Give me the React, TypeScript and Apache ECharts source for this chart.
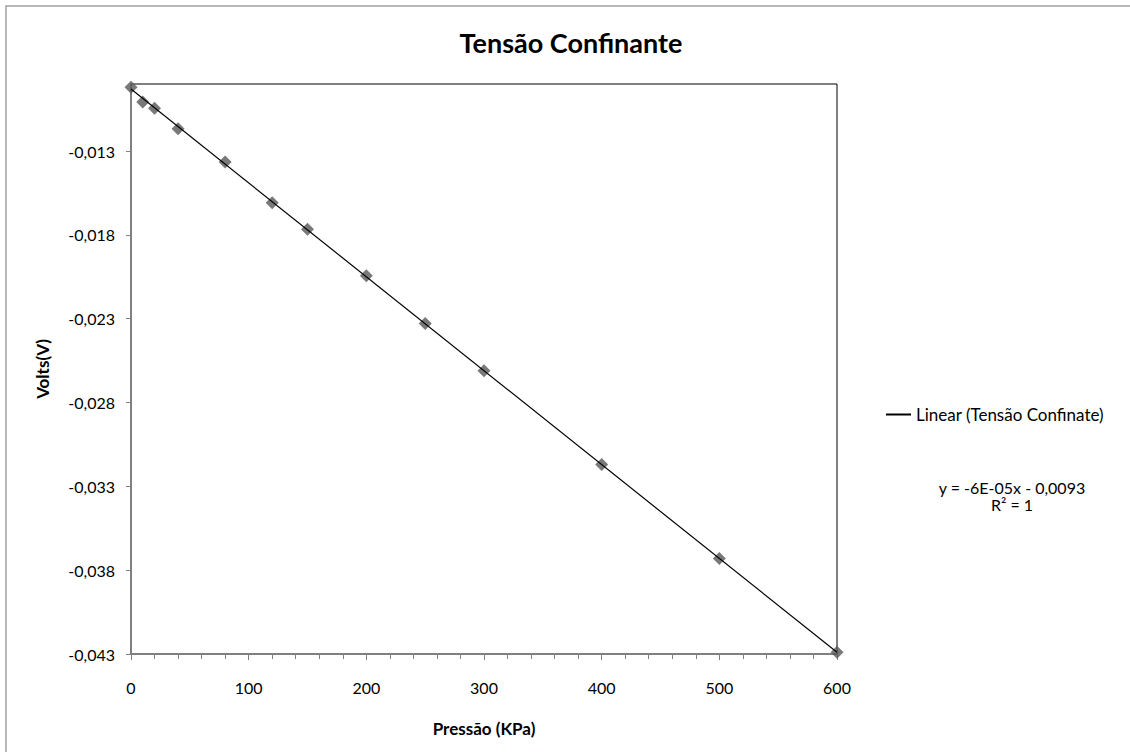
import React, { useEffect, useRef } from "react";
import * as echarts from "echarts";

const chartTitle = "Tensão Confinante";
const xAxisTitle = "Pressão (KPa)";
const yAxisTitle = "Volts(V)";
const trendName = "Linear (Tensão Confinate)";
const equationLines = ["y = -6E-05x - 0,0093", "R² = 1"];

const pressao = [0, 10, 20, 40, 80, 120, 150, 200, 250, 300, 400, 500, 600];
const volts = [
  -0.00919, -0.01007, -0.01044, -0.01167, -0.01365, -0.01608, -0.01766,
  -0.02044, -0.02328, -0.0261, -0.03169, -0.0373, -0.0429,
];
const trendX = [0, 600];
const trendY = [-0.0093, -0.0429];
const yTicks = [-0.043, -0.038, -0.033, -0.028, -0.023, -0.018, -0.013];

const FONT = "Lato";
const FS = 16;

export default function App() {
  const ref = useRef<HTMLDivElement>(null);
  useEffect(() => {
    if (!ref.current) return;
    const chart = echarts.init(ref.current, null, { renderer: "svg" });
    chart.setOption({
      animation: false,
      backgroundColor: "#ffffff",
      textStyle: { fontFamily: FONT },
      title: {
        text: chartTitle,
        left: 566,
        top: 24,
        textAlign: "center",
        textStyle: { fontFamily: FONT, fontSize: 27, fontWeight: "bold", color: "#000" },
      },
      grid: {
        left: 131,
        right: 293,
        top: 84,
        bottom: 98,
        show: true,
        borderColor: "#000",
        borderWidth: 1,
        backgroundColor: "transparent",
      },
      legend: {
        data: [trendName],
        left: 881,
        top: 401,
        itemWidth: 25,
        itemHeight: 2,
        itemGap: 8,
        textStyle: { fontFamily: FONT, fontSize: 17, color: "#000" },
        icon: "rect",
      },
      xAxis: {
        type: "value",
        min: 0,
        max: 600,
        interval: 100,
        name: xAxisTitle,
        nameLocation: "middle",
        nameGap: 66,
        nameTextStyle: { fontFamily: FONT, fontSize: 17, fontWeight: "bold", color: "#000" },
        axisLine: { show: true, onZero: false, lineStyle: { color: "#808080", width: 1.5 } },
        axisTick: { show: true, inside: false, length: 6, lineStyle: { color: "#808080", width: 1 } },
        minorTick: { show: true, splitNumber: 5, length: 5, lineStyle: { color: "#808080", width: 1 } },
        axisLabel: { fontFamily: FONT, fontSize: FS, color: "#000", margin: 25 },
        splitLine: { show: false },
      },
      yAxis: {
        type: "value",
        min: -0.043,
        max: -0.009,
        name: yAxisTitle,
        nameLocation: "middle",
        nameGap: 80,
        nameRotate: 90,
        nameTextStyle: { fontFamily: FONT, fontSize: 17, fontWeight: "bold", color: "#000" },
        axisLine: { show: true, onZero: false, lineStyle: { color: "#808080", width: 1.5 } },
        axisTick: {
          show: true,
          inside: false,
          length: 5,
          customValues: yTicks,
          lineStyle: { color: "#808080", width: 1 },
        },
        axisLabel: {
          fontFamily: FONT,
          fontSize: FS,
          color: "#000",
          margin: 16,
          customValues: yTicks,
          formatter: (v: number) => v.toFixed(3).replace(".", ","),
        },
        splitLine: { show: false },
      },
      graphic: [
        {
          type: "rect",
          shape: { x: 6, y: 6, width: 1300, height: 900 },
          style: { fill: "none", stroke: "#a0a0a0", lineWidth: 1.5 },
          silent: true,
        },
        {
          type: "text",
          x: 1012,
          y: 487,
          style: {
            text: equationLines[0],
            fontFamily: FONT,
            fontSize: 16,
            fill: "#000",
            textAlign: "center",
            textVerticalAlign: "middle",
          },
        },
        {
          type: "text",
          x: 1012,
          y: 504,
          style: {
            text: equationLines[1],
            fontFamily: FONT,
            fontSize: 16,
            fill: "#000",
            textAlign: "center",
            textVerticalAlign: "middle",
          },
        },
      ],
      series: [
        {
          name: "Tensão Confinate",
          type: "scatter",
          data: pressao.map((x, i) => [x, volts[i]]),
          symbol: "diamond",
          symbolSize: 13,
          itemStyle: { color: "#575757" },
          z: 2,
        },
        {
          name: trendName,
          type: "line",
          data: trendX.map((x, i) => [x, trendY[i]]),
          symbol: "none",
          lineStyle: { color: "#000", width: 1.2 },
          itemStyle: { color: "#000" },
          z: 3,
        },
      ],
    });
    return () => chart.dispose();
  }, []);
  return (
    <div
      ref={ref}
      style={{ position: "absolute", left: 0, top: 0, width: 1130, height: 752 }}
    />
  );
}
